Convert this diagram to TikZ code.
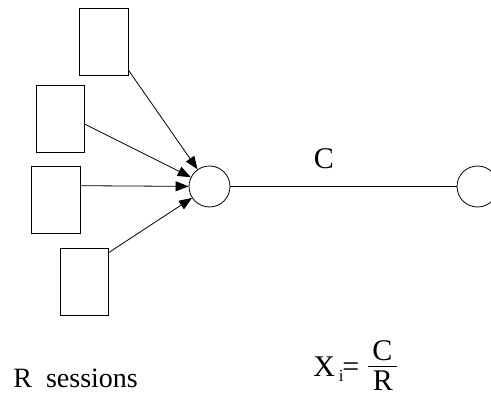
\documentclass[tikz,border=0pt]{standalone}
\usepackage{fontspec}
\setmainfont{Liberation Serif}
\usetikzlibrary{arrows.meta}
\tikzset{
  session/.style={draw, minimum width=48.7pt, minimum height=67pt, inner sep=0pt},
  router/.style={draw, circle, minimum size=41pt, inner sep=0pt},
  flow/.style={-{Triangle[length=13pt,width=10pt]}},
  bigtext/.style={font=\fontsize{28}{32}\selectfont, inner sep=0pt},
  eqtext/.style={font=\fontsize{30}{34}\selectfont, inner sep=0pt}
}
\begin{document}
\begin{tikzpicture}[x=1pt,y=-1pt,line width=0.8pt]
      \useasboundingbox (0,0) rectangle (491,396);
      % Session boxes
      \node[session] (b1) at (103.7,41.7) {};
      \node[session] (b2) at (60.3,118.6) {};
      \node[session] (b3) at (55.7,200) {};
      \node[session] (b4) at (84.4,281.8) {};
      % Routers
      \node[router] (r1) at (209.5,186.5) {};
      \node[router] (r2) at (477.5,186.5) {};
      % Flows into the first router
      \draw[flow] (b1.-49) -- (r1);
      \draw[flow] (b2.-13) -- (r1);
      \draw[flow] (b3.30) -- (r1);
      \draw[flow] (b4.50) -- (r1);
      % Link
      \draw (r1) -- (r2);
      \node[eqtext, anchor=base] (cap) at (324,168) {C};
      % Bottom labels
      \node[bigtext, anchor=base west] (sessions) at (13,387) {R\ \ sessions};
      \node[eqtext, anchor=base west] (x) at (313,376) {X};
      \node[font=\fontsize{17}{19}\selectfont, inner sep=0pt, anchor=base west] (idx) at (338.5,381) {i};
      \node[eqtext, anchor=base west] (eq) at (342,376) {=};
      \draw (368,366) -- (397,366);
      \node[eqtext, anchor=base] (num) at (382.5,360) {C};
      \node[eqtext, anchor=base] (den) at (383,390) {R};
    \end{tikzpicture}
\end{document}
